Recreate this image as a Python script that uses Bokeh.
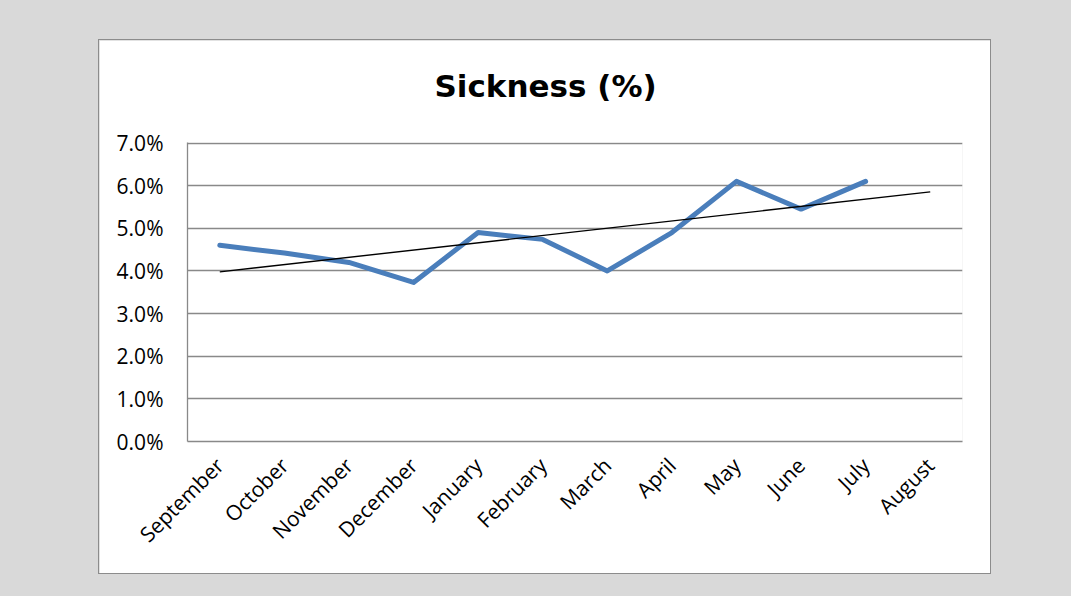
import numpy as np
from bokeh.plotting import figure
from bokeh.layouts import column
from bokeh.models import FactorRange, Range1d, FixedTicker, PrintfTickFormatter, Title
from bokeh.embed import file_html
from bokeh.resources import INLINE

months = ["September", "October", "November", "December", "January", "February",
          "March", "April", "May", "June", "July", "August"]
sickness = [4.6, 4.42, 4.2, 3.73, 4.9, 4.74, 4.0, 4.9, 6.1, 5.45, 6.1]
y_ticks = [0, 1, 2, 3, 4, 5, 6, 7]
title_text = "Sickness (%)"

# linear trendline (least squares), extended one period forward
idx = np.arange(len(sickness))
slope, intercept = np.polyfit(idx, sickness, 1)
trend_x = [months[0], months[-1]]
trend_y = [intercept, intercept + slope * (len(months) - 1)]

FONT = "Open Sans"
GRID = "#898989"

p = figure(width=891, height=533, x_range=FactorRange(*months, range_padding=0),
           y_range=Range1d(0, 7.012), output_backend="svg", toolbar_location=None,
           min_border_left=88, min_border_right=28, min_border_top=102, min_border_bottom=132,
           border_fill_color="white", background_fill_color="white", outline_line_color=None)

p.title = Title(text=title_text, align="left", offset=247, standoff=0,
                text_font="DejaVu Sans", text_font_style="bold",
                text_font_size="31px", text_color="black")
# spacer between the frame and the title
p.add_layout(Title(text=" ", text_font_size="1px", standoff=36), "above")

p.line(months[:len(sickness)], sickness, line_color="#4a7ebb", line_width=5,
       line_join="round", line_cap="round")
p.line(trend_x, trend_y, line_color="black", line_width=1.4)

p.xgrid.grid_line_color = None
p.ygrid.grid_line_color = GRID
p.ygrid.grid_line_width = 1.3

p.yaxis.ticker = FixedTicker(ticks=y_ticks)
p.yaxis.formatter = PrintfTickFormatter(format="%.1f%%")
p.yaxis.axis_line_color = GRID
p.yaxis.axis_line_width = 1.3
p.yaxis.major_tick_line_color = None
p.yaxis.minor_tick_line_color = None
p.yaxis.major_tick_out = 0
p.yaxis.major_label_standoff = 24
p.yaxis.major_label_text_font = FONT
p.yaxis.major_label_text_font_size = "21px"
p.yaxis.major_label_text_color = "black"

p.xaxis.axis_line_color = GRID
p.xaxis.axis_line_width = 1.3
p.xaxis.major_tick_line_color = None
p.xaxis.major_tick_out = 0
p.xaxis.major_label_orientation = np.pi / 4
p.xaxis.major_label_standoff = 20
p.xaxis.major_label_text_font = FONT
p.xaxis.major_label_text_font_size = "21px"
p.xaxis.major_label_text_color = "black"

p.margin = (40, 0, 0, 99)
p.styles = {"outline": "1px solid #8c8c8c"}

layout = column(p, width=1071, height=596, styles={"background-color": "#d9d9d9"})

open("out.html", "w").write(file_html(layout, INLINE))
